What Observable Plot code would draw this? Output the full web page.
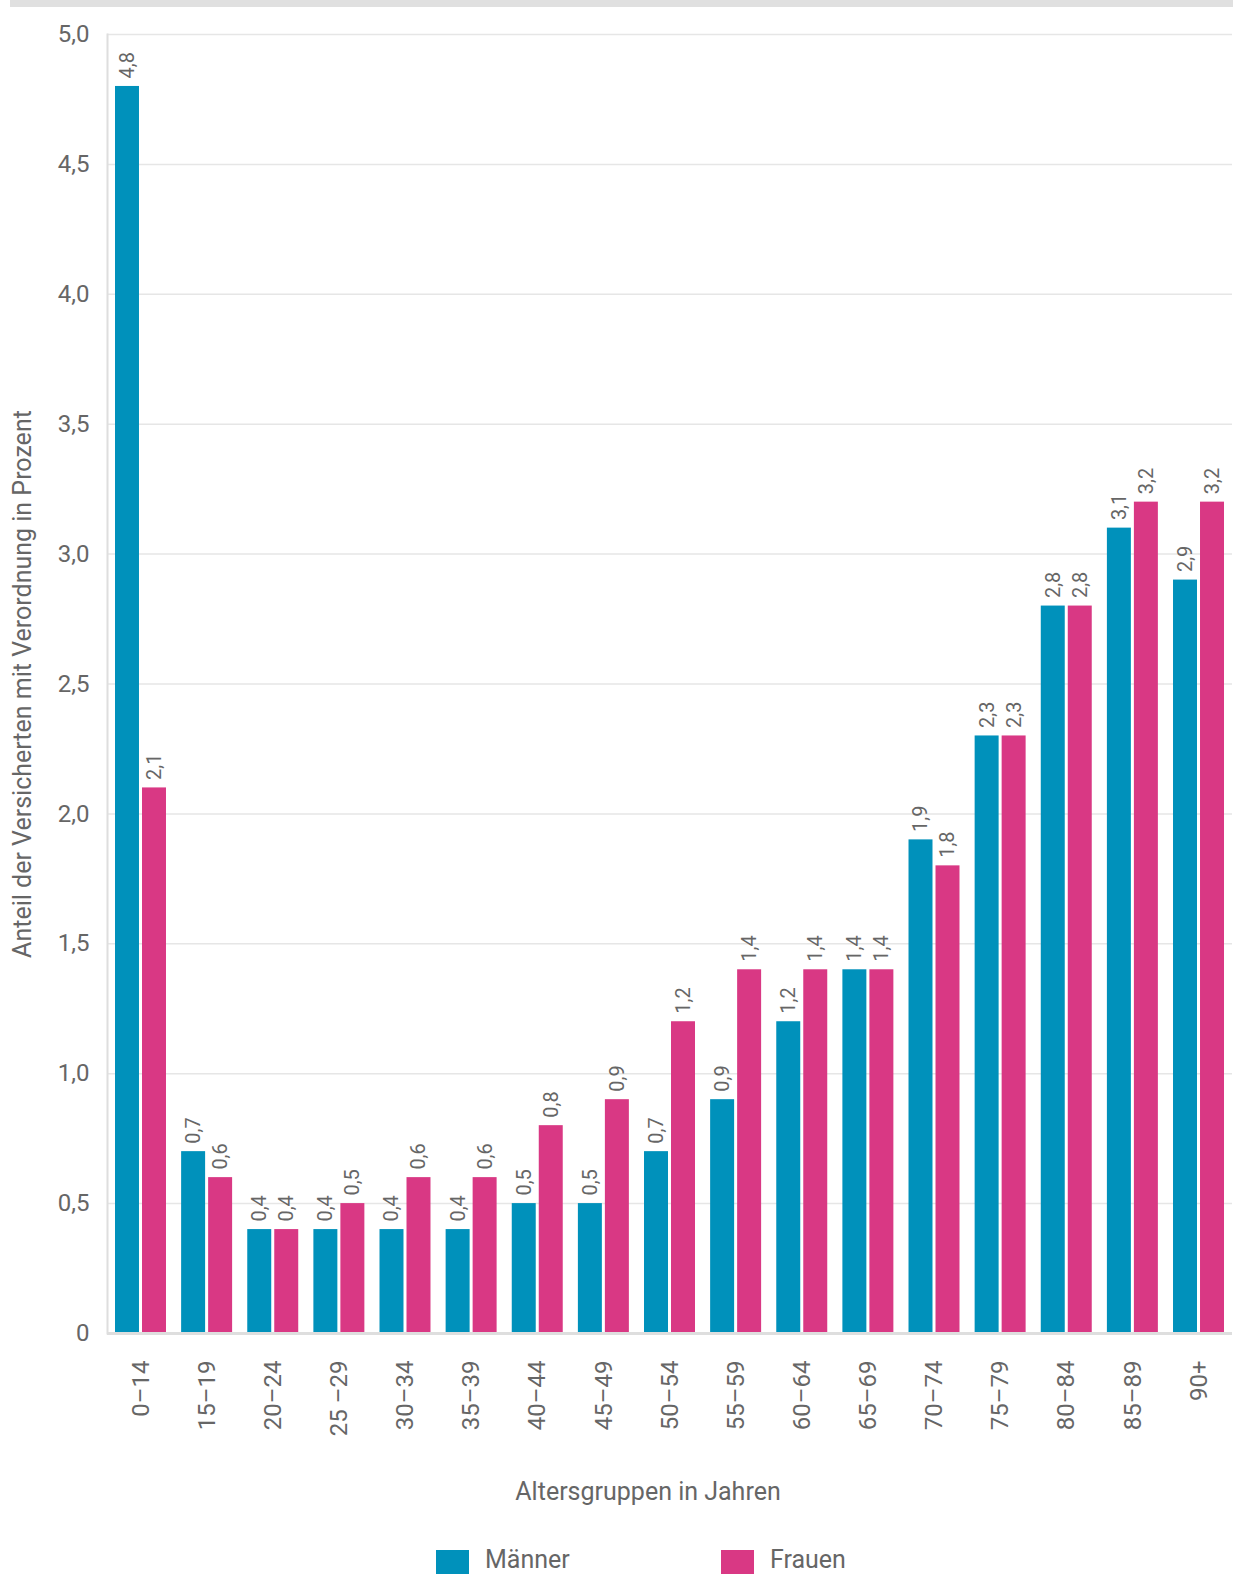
<!DOCTYPE html>
<html lang="de">
<head>
<meta charset="utf-8">
<script src="https://cdn.jsdelivr.net/npm/d3@7"></script>
<script src="https://cdn.jsdelivr.net/npm/@observablehq/plot@0.6"></script>
<style>
  html, body { margin: 0; padding: 0; background: #fff; }
  body { width: 1233px; height: 1576px; position: relative; overflow: hidden; font-family: Roboto, "Noto Sans", sans-serif; }
  .topbar { position: absolute; left: 10px; top: 0; width: 1223px; height: 7px; background: #e0e0e0; }
  #chart { position: absolute; left: 0; top: 0; }
  .legend { position: absolute; top: 1544px; left: 0; width: 1233px; height: 32px; font-size: 25px; color: #666; }
  .legend .item { position: absolute; top: 0; display: flex; align-items: center; }
  .legend .sw { width: 33px; height: 24px; margin-right: 16px; margin-top: 6px; }
</style>
</head>
<body>
<div class="topbar"></div>
<div id="chart"></div>
<div class="legend" id="legend"></div>
<script>
// Altersgruppen (x-Achse)
const altersgruppen = ["0–14", "15–19", "20–24", "25 –29", "30–34", "35–39", "40–44", "45–49", "50–54", "55–59", "60–64", "65–69", "70–74", "75–79", "80–84", "85–89", "90+"];
// Anteil der Versicherten mit Verordnung in Prozent
const maenner = [4.8, 0.7, 0.4, 0.4, 0.4, 0.4, 0.5, 0.5, 0.7, 0.9, 1.2, 1.4, 1.9, 2.3, 2.8, 3.1, 2.9];
const frauen  = [2.1, 0.6, 0.4, 0.5, 0.6, 0.6, 0.8, 0.9, 1.2, 1.4, 1.4, 1.4, 1.8, 2.3, 2.8, 3.2, 3.2];
const yTicks = [0, 0.5, 1, 1.5, 2, 2.5, 3, 3.5, 4, 4.5, 5];
const serien = ["Männer", "Frauen"];
const farben = ["#0091bb", "#d93884"];

const rowsM = altersgruppen.map((g, i) => ({gruppe: g, wert: maenner[i]}));
const rowsF = altersgruppen.map((g, i) => ({gruppe: g, wert: frauen[i]}));

const fmt = d => d === 0 ? "0" : d3.format(".1f")(d).replace(".", ",");
const textFarbe = "#666";
const font = "Roboto, 'Noto Sans', sans-serif";

const chart = Plot.plot({
  width: 1233,
  height: 1520,
  marginLeft: 107,
  marginRight: 1,
  marginTop: 34,
  marginBottom: 187,
  style: {fontFamily: font, color: textFarbe, background: "transparent"},
  x: {domain: altersgruppen, paddingInner: 0.229, paddingOuter: 0.121, round: false},
  y: {domain: [0, 5]},
  marks: [
    Plot.gridY(yTicks, {stroke: "#e6e6e6", strokeOpacity: 1, strokeWidth: 1.5}),
    Plot.barY(rowsM, {x: "gruppe", y: "wert", fill: farben[0], insetRight: 27}),
    Plot.barY(rowsF, {x: "gruppe", y: "wert", fill: farben[1], insetLeft: 27}),
    Plot.text(rowsM, {x: "gruppe", y: "wert", text: d => fmt(d.wert), rotate: -90, textAnchor: "start", dx: -13.5, dy: -8, fontSize: 20, fill: textFarbe}),
    Plot.text(rowsF, {x: "gruppe", y: "wert", text: d => fmt(d.wert), rotate: -90, textAnchor: "start", dx: 13.5, dy: -8, fontSize: 20, fill: textFarbe}),
    Plot.frame({anchor: "left", stroke: "#dedede", strokeWidth: 2}),
    Plot.ruleY([0], {stroke: "#dedede", strokeWidth: 3}),
    Plot.axisY(yTicks, {
      tickSize: 0, tickPadding: 18, tickFormat: fmt, fontSize: 24, fill: textFarbe,
      label: "Anteil der Versicherten mit Verordnung in Prozent", labelAnchor: "center", labelArrow: "none", labelOffset: 94
    }),
    Plot.axisX({
      tickSize: 0, tickPadding: 27, tickRotate: -90, fontSize: 24, fill: textFarbe, label: null
    }),
    Plot.text(["Altersgruppen in Jahren"], {frameAnchor: "bottom", dx: -22, dy: 166, fontSize: 25, fill: textFarbe})
  ]
});
chart.querySelectorAll("g[aria-label='y-axis label'] text").forEach(t => t.setAttribute("font-size", 25));
document.getElementById("chart").append(chart);

// Legende
const legend = document.getElementById("legend");
const legendX = [436, 721];
serien.forEach((s, i) => {
  const item = document.createElement("div");
  item.className = "item";
  item.style.left = legendX[i] + "px";
  const sw = document.createElement("span");
  sw.className = "sw";
  sw.style.background = farben[i];
  const label = document.createElement("span");
  label.textContent = s;
  item.append(sw, label);
  legend.append(item);
});
</script>
</body>
</html>
